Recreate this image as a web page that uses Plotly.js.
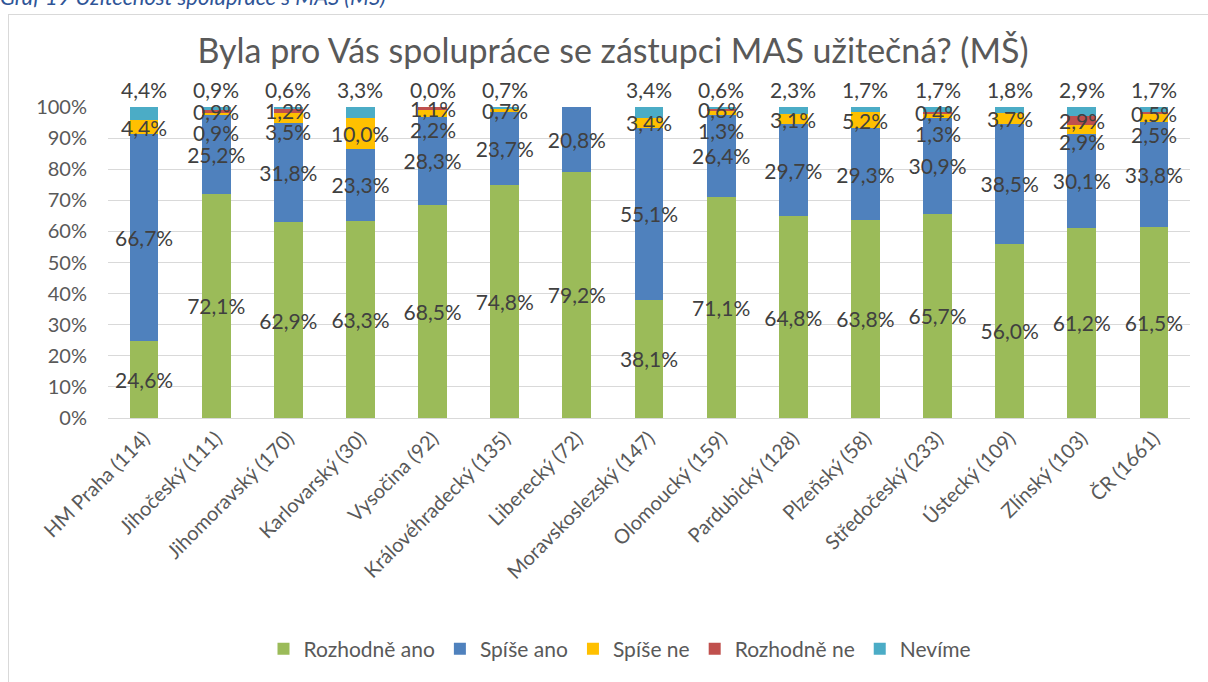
<!DOCTYPE html>
<html>
<head>
<meta charset="utf-8">
<script src="https://cdn.plot.ly/plotly-3.0.1.min.js"></script>
<style>
  html, body { margin: 0; padding: 0; background: #ffffff; overflow: hidden; }
  #wrap { position: relative; width: 1208px; height: 682px; overflow: hidden; }
  #caption { position: absolute; left: 0px; top: -14px; font-family: Lato, sans-serif; font-style: italic;
             font-size: 22px; line-height: 22px; color: #2F5597; white-space: nowrap; }
  #frame { position: absolute; left: 8px; top: 14px; width: 1300px; height: 800px; border: 1px solid #d9d9d9; }
  #chart { position: absolute; left: 0; top: 0; width: 1208px; height: 682px; }
</style>
</head>
<body>
<div id="wrap">
  <div id="caption">Graf 19 Užitečnost spolupráce s MAS (MŠ)</div>
  <div id="frame"></div>
  <div id="chart"></div>
</div>
<script>
const categories = ["HM Praha (114)", "Jihočeský (111)", "Jihomoravský (170)", "Karlovarský (30)", "Vysočina (92)",
  "Královéhradecký (135)", "Liberecký (72)", "Moravskoslezský (147)", "Olomoucký (159)", "Pardubický (128)",
  "Plzeňský (58)", "Středočeský (233)", "Ústecký (109)", "Zlínský (103)", "ČR (1661)"];

const rozhodneAno = [24.6, 72.1, 62.9, 63.3, 68.5, 74.8, 79.2, 38.1, 71.1, 64.8, 63.8, 65.7, 56.0, 61.2, 61.5];
const spiseAno    = [66.7, 25.2, 31.8, 23.3, 28.3, 23.7, 20.8, 55.1, 26.4, 29.7, 29.3, 30.9, 38.5, 30.1, 33.8];
const spiseNe     = [4.4, 0.9, 3.5, 10.0, 2.2, 0.7, null, 3.4, 1.3, 3.1, 5.2, 1.3, 3.7, 2.9, 2.5];
const rozhodneNe  = [null, 0.9, 1.2, null, 1.1, null, null, null, 0.6, null, null, 0.4, null, 2.9, 0.5];
const nevime      = [4.4, 0.9, 0.6, 3.3, 0.0, 0.7, null, 3.4, 0.6, 2.3, 1.7, 1.7, 1.8, 2.9, 1.7];

const seriesNames = ["Rozhodně ano", "Spíše ano", "Spíše ne", "Rozhodně ne", "Nevíme"];
const seriesColors = ["#9BBB59", "#4F81BD", "#FFC000", "#C0504D", "#4BACC6"];
const seriesData = [rozhodneAno, spiseAno, spiseNe, rozhodneNe, nevime];

const FONT = "Lato, 'Open Sans', sans-serif";
const LABEL_COLOR = "#404040";
const AXIS_COLOR = "#595959";
const LABEL_SIZE = 21;

const M = { l: 108, r: 18, t: 107, b: 264 };
const plotH = 682 - M.t - M.b;
const pxPerUnit = plotH / 100;

function fmt(v) { return v.toFixed(1).replace('.', ',') + '%'; }

const traces = seriesData.map((vals, k) => {
  const t = {
    type: 'bar',
    name: seriesNames[k],
    x: categories,
    y: vals.map(v => v === null ? 0 : v),
    marker: { color: seriesColors[k], line: { width: 0 } },
    hoverinfo: 'skip'
  };
  if (k < 2) {
    t.text = vals.map(fmt);
    t.textposition = 'inside';
    t.insidetextanchor = 'middle';
    t.textangle = 0;
    t.constraintext = 'none';
    t.textfont = { family: FONT, size: LABEL_SIZE, color: LABEL_COLOR };
  } else {
    t.textposition = 'none';
  }
  return t;
});

// labels for the small segments
const annotations = [];
categories.forEach((c, i) => {
  const base = rozhodneAno[i] + spiseAno[i];
  const yNe = spiseNe[i] || 0;
  const rNe = rozhodneNe[i] || 0;
  const nv = nevime[i] || 0;
  let redPx = null;
  if (rozhodneNe[i] !== null) {
    const yc = base + yNe + rNe / 2;
    redPx = yc * pxPerUnit;
    annotations.push({ x: c, y: yc, xref: 'x', yref: 'y', text: fmt(rozhodneNe[i]), showarrow: false,
      yanchor: 'middle', font: { family: FONT, size: LABEL_SIZE, color: LABEL_COLOR } });
  }
  if (spiseNe[i] !== null) {
    const yc = base + yNe / 2;
    let shift = 0;
    if (redPx !== null) {
      const gap = redPx - yc * pxPerUnit;
      const need = 21;
      if (gap < need) shift = -(need - gap);
    }
    annotations.push({ x: c, y: yc, xref: 'x', yref: 'y', text: fmt(spiseNe[i]), showarrow: false,
      yanchor: 'middle', yshift: shift, font: { family: FONT, size: LABEL_SIZE, color: LABEL_COLOR } });
  }
  if (nevime[i] !== null) {
    const top = Math.min(100, base + yNe + rNe + nv);
    annotations.push({ x: c, y: top, xref: 'x', yref: 'y', text: fmt(nevime[i]), showarrow: false,
      yanchor: 'bottom', yshift: 3, font: { family: FONT, size: LABEL_SIZE, color: LABEL_COLOR } });
  }
});

const layout = {
  width: 1208, height: 682,
  margin: M,
  paper_bgcolor: 'rgba(0,0,0,0)',
  plot_bgcolor: 'rgba(0,0,0,0)',
  barmode: 'stack',
  bargap: 0.6,
  separators: ', ',
  font: { family: FONT, color: AXIS_COLOR },
  title: {
    text: 'Byla pro Vás spolupráce se zástupci MAS užitečná? (MŠ)',
    font: { family: FONT, size: 34, color: AXIS_COLOR },
    x: 613 / 1208, xanchor: 'center', xref: 'container',
    y: 1 - 51 / 682, yanchor: 'middle', yref: 'container'
  },
  xaxis: {
    type: 'category',
    tickangle: -45,
    tickfont: { family: FONT, size: 20, color: AXIS_COLOR },
    showline: true, linecolor: '#d9d9d9', linewidth: 1,
    ticks: '', showgrid: false, automargin: false
  },
  yaxis: {
    range: [0, 100],
    dtick: 10,
    ticksuffix: '%',
    tickfont: { family: FONT, size: 20, color: AXIS_COLOR },
    gridcolor: '#d9d9d9', gridwidth: 1,
    zeroline: false, showline: false, ticks: '', ticklabelstandoff: 20,
    automargin: false
  },
  showlegend: true,
  legend: {
    orientation: 'h',
    xref: 'container', yref: 'container',
    x: 620 / 1208, xanchor: 'center',
    y: 1 - 649 / 682, yanchor: 'middle',
    font: { family: FONT, size: 21, color: AXIS_COLOR },
    traceorder: 'normal',
    itemclick: false, itemdoubleclick: false
  },
  annotations: annotations
};

Plotly.newPlot('chart', traces, layout, { displayModeBar: false, staticPlot: true });
</script>
</body>
</html>
